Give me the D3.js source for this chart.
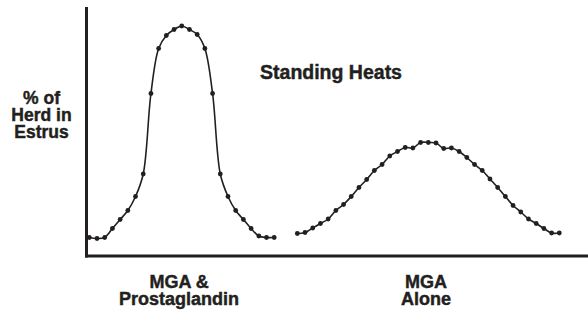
<!DOCTYPE html>
<html>
<head>
<meta charset="utf-8">
<script src="https://cdn.jsdelivr.net/npm/d3@7"></script>
<style>
  html, body { margin: 0; padding: 0; background: #fff; }
  svg { display: block; }
  text { font-family: "Liberation Sans", Arial, sans-serif; font-weight: bold; fill: #231f20; stroke: #231f20; stroke-width: 0.45px; }
</style>
</head>
<body>
<svg id="chart" width="588" height="311"></svg>
<script>
// Day index (x) and % of herd in estrus (y)
const mgaPgDays = d3.range(0, 25);
const mgaPgValues = [3.7, 3.5, 3.7, 5.5, 7.3, 9.1, 11.9, 16.4, 32.5, 41.5, 44.1, 45.3, 46.0,
                     45.3, 44.3, 41.5, 32.5, 16.4, 11.9, 9.1, 7.3, 5.5, 4.0, 3.7, 3.7];
const mgaAloneDays = d3.range(27, 62);
const mgaAloneValues = [4.5, 4.7, 5.6, 6.5, 7.4, 9.1, 10.3, 11.9, 13.7, 15.3, 17.1, 18.3, 20.0,
                        20.9, 21.7, 21.6, 22.7, 22.7, 22.6, 21.5, 21.6, 20.9, 19.7, 18.3, 17.1,
                        15.4, 13.7, 11.9, 10.1, 8.8, 7.4, 6.5, 5.5, 4.6, 4.6];
const groupLabels = [["MGA &", "Prostaglandin"], ["MGA", "Alone"]];
const groupCenters = [11.65, 43.7];
const yLabelLines = ["% of", "Herd in", "Estrus"];
const titleText = "Standing Heats";

const svg = d3.select("#chart");
const ink = "#231f20";

const x = d3.scaleLinear().domain([0, 61]).range([89.3, 559.3]);
const y = d3.scaleLinear().domain([0, 50]).range([256, 6]);

// Axes (no ticks)
const xAxis = d3.axisBottom(x).tickValues([]).tickSizeOuter(0);
const yAxis = d3.axisLeft(y).tickValues([]).tickSizeOuter(0);
const gx = svg.append("g").attr("transform", "translate(0,256)").call(xAxis);
gx.select(".domain").attr("d", "M85,0H588").attr("stroke", ink).attr("stroke-width", 3);
const gy = svg.append("g").attr("transform", "translate(86.5,0)").call(yAxis);
gy.select(".domain").attr("d", "M0,7V257.5").attr("stroke", ink).attr("stroke-width", 3);

const line = d3.line()
  .x(d => x(d[0]))
  .y(d => y(d[1]))
  .curve(d3.curveCatmullRom.alpha(0.5));

const series = [
  d3.zip(mgaPgDays, mgaPgValues),
  d3.zip(mgaAloneDays, mgaAloneValues)
];

series.forEach(data => {
  svg.append("path")
    .datum(data)
    .attr("d", line)
    .attr("fill", "none")
    .attr("stroke", ink)
    .attr("stroke-width", 1.6);
  svg.append("g").selectAll("circle")
    .data(data)
    .join("circle")
    .attr("cx", d => x(d[0]))
    .attr("cy", d => y(d[1]))
    .attr("r", 2.4)
    .attr("fill", ink);
});

// Title
svg.append("text")
  .attr("x", 331).attr("y", 79)
  .attr("text-anchor", "middle")
  .attr("font-size", 19.5)
  .text(titleText);

// Y label
const yl = svg.append("text")
  .attr("text-anchor", "middle")
  .attr("font-size", 17.5);
yLabelLines.forEach((t, i) => {
  yl.append("tspan").attr("x", 41.5).attr("y", 103.5 + i * 17.2).text(t);
});

// Group labels
groupLabels.forEach((lines, gi) => {
  const t = svg.append("text")
    .attr("text-anchor", "middle")
    .attr("font-size", 18);
  lines.forEach((s, i) => {
    t.append("tspan").attr("x", x(groupCenters[gi])).attr("y", 288 + i * 17).text(s);
  });
});
</script>
</body>
</html>
